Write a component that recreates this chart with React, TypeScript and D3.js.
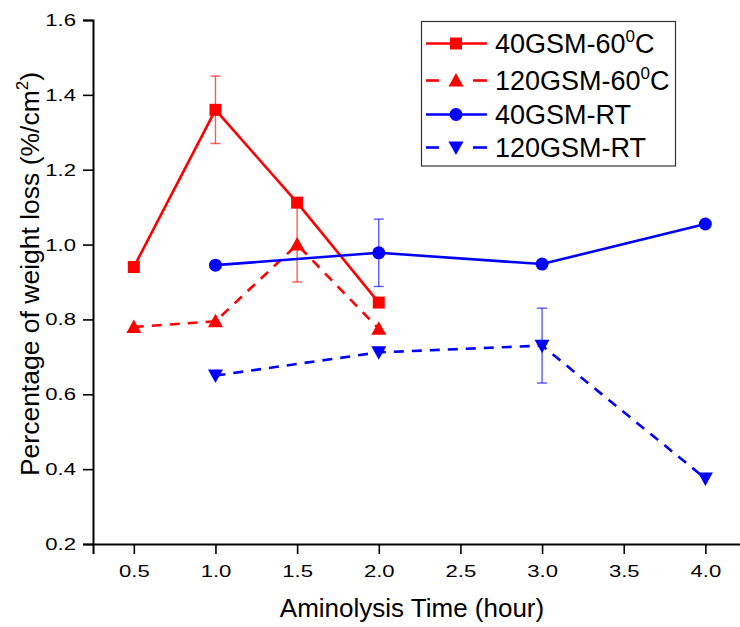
import { useEffect, useRef } from 'react';
import * as d3 from 'd3';

const hours = [0.5, 1.0, 1.5, 2.0, 3.0, 4.0];

// values per series (null = no measurement)
const gsm40Hot = [0.94, 1.36, 1.112, 0.845, null, null];
const gsm120Hot = [0.78, 0.795, 1.0, 0.775, null, null];
const gsm40Rt = [null, 0.945, null, 0.978, 0.948, 1.055];
const gsm120Rt = [null, 0.65, null, 0.712, 0.73, 0.375];

// error bars (half widths), only where drawn in the figure
const gsm40HotErr = [0, 0.09, 0, 0, 0, 0];
const gsm120HotErr = [0, 0, 0.1, 0, 0, 0];
const gsm40RtErr = [0, 0, 0, 0.09, 0, 0];
const gsm120RtErr = [0, 0, 0, 0, 0.1, 0];

const xTicks = [0.5, 1.0, 1.5, 2.0, 2.5, 3.0, 3.5, 4.0];
const yTicks = [0.2, 0.4, 0.6, 0.8, 1.0, 1.2, 1.4, 1.6];

const series = [
  { name: '40GSM-60', sup: '0', tail: 'C', values: gsm40Hot, err: gsm40HotErr, color: '#ff0000', dashed: false, symbol: 'square' },
  { name: '120GSM-60', sup: '0', tail: 'C', values: gsm120Hot, err: gsm120HotErr, color: '#ff0000', dashed: true, symbol: 'up' },
  { name: '40GSM-RT', sup: '', tail: '', values: gsm40Rt, err: gsm40RtErr, color: '#0000ff', dashed: false, symbol: 'circle' },
  { name: '120GSM-RT', sup: '', tail: '', values: gsm120Rt, err: gsm120RtErr, color: '#0000ff', dashed: true, symbol: 'down' },
];

const FONT = '"Liberation Sans", Arial, sans-serif';
const STRETCH = 1.3; // tick labels in the original are drawn wide

const drawMarker = (g: any, symbol: string, x: number, y: number, color: string) => {
  if (symbol === 'square') {
    g.append('rect').attr('x', x - 6).attr('y', y - 6).attr('width', 12).attr('height', 12).attr('fill', color);
  } else if (symbol === 'circle') {
    g.append('circle').attr('cx', x).attr('cy', y).attr('r', 6.5).attr('fill', color);
  } else if (symbol === 'up') {
    g.append('path').attr('d', `M${x},${y - 7.5}L${x + 7.5},${y + 6}L${x - 7.5},${y + 6}Z`).attr('fill', color);
  } else {
    g.append('path').attr('d', `M${x},${y + 7.5}L${x + 7.5},${y - 6}L${x - 7.5},${y - 6}Z`).attr('fill', color);
  }
};

const App = () => {
  const svgRef = useRef<SVGSVGElement>(null);

  useEffect(() => {
    const svg = d3.select(svgRef.current);
    svg.selectAll('*').remove();

    const x = d3.scaleLinear().domain([0.25, 4.25]).range([93, 746.2]);
    const y = d3.scaleLinear().domain([0.2, 1.6]).range([544, 20]);

    // Y axis with minor ticks
    const yAxis = svg.append('g').attr('transform', 'translate(93,0)');
    yAxis.call(
      d3.axisLeft(y).tickValues(d3.range(0.2, 1.61, 0.1)).tickSize(5).tickFormat(() => '')
    );
    yAxis.call(
      d3.axisLeft(y).tickValues(yTicks).tickSize(10).tickFormat(d3.format('.1f')) as any
    );
    // X axis with minor ticks
    const xAxis = svg.append('g').attr('transform', 'translate(0,544)');
    xAxis.call(
      d3.axisBottom(x).tickValues(d3.range(0.25, 4.26, 0.25)).tickSize(5).tickFormat(() => '')
    );
    xAxis.call(
      d3.axisBottom(x).tickValues(xTicks).tickSize(10).tickFormat(d3.format('.1f')) as any
    );
    svg.selectAll('.domain').attr('stroke', '#000').attr('stroke-width', 2);
    svg.selectAll('.tick line').attr('stroke', '#000').attr('stroke-width', 1.6);
    svg.selectAll('.tick text')
      .attr('font-family', FONT)
      .attr('font-size', 17)
      .attr('fill', '#000')
      .attr('transform', `scale(${STRETCH},1)`);
    yAxis.selectAll('.tick text').attr('x', -17 / STRETCH);
    xAxis.selectAll('.tick text').attr('y', 21).attr('dy', '0.71em');

    // Axis titles
    svg.append('text')
      .attr('x', 412)
      .attr('y', 617)
      .attr('text-anchor', 'middle')
      .attr('font-family', FONT)
      .attr('font-size', 26)
      .text('Aminolysis Time (hour)');

    const yt = svg.append('text')
      .attr('transform', 'translate(39,274) rotate(-90)')
      .attr('text-anchor', 'middle')
      .attr('font-family', FONT)
      .attr('font-size', 26.5);
    yt.append('tspan').text('Percentage of weight loss (%/cm');
    yt.append('tspan').attr('dy', -11).attr('font-size', 17).text('2');
    yt.append('tspan').attr('dy', 11).text(')');

    // Series
    series.forEach((s) => {
      const pts = hours
        .map((h, i) => ({ h, v: s.values[i], e: s.err[i] }))
        .filter((p) => p.v !== null) as { h: number; v: number; e: number }[];

      const line = d3.line<{ h: number; v: number }>()
        .x((d) => x(d.h))
        .y((d) => y(d.v));

      svg.append('path')
        .datum(pts)
        .attr('fill', 'none')
        .attr('stroke', s.color)
        .attr('stroke-width', 2.6)
        .attr('stroke-dasharray', s.dashed ? '10,8' : null)
        .attr('d', line);

      const eg = svg.append('g')
        .attr('stroke', s.color)
        .attr('stroke-opacity', 0.65)
        .attr('stroke-width', 1.4);
      pts.filter((p) => p.e > 0).forEach((p) => {
        const cx = x(p.h);
        const y0 = y(p.v - p.e);
        const y1 = y(p.v + p.e);
        eg.append('line').attr('x1', cx).attr('x2', cx).attr('y1', y0).attr('y2', y1);
        eg.append('line').attr('x1', cx - 5).attr('x2', cx + 5).attr('y1', y0).attr('y2', y0);
        eg.append('line').attr('x1', cx - 5).attr('x2', cx + 5).attr('y1', y1).attr('y2', y1);
      });

      const mg = svg.append('g');
      pts.forEach((p) => drawMarker(mg, s.symbol, x(p.h), y(p.v), s.color));
    });

    // Legend
    const lg = svg.append('g');
    lg.append('rect')
      .attr('x', 421.5)
      .attr('y', 21.5)
      .attr('width', 254)
      .attr('height', 144.5)
      .attr('fill', '#fff')
      .attr('stroke', '#333')
      .attr('stroke-width', 1.2);
    const rowY = [43.5, 80.5, 114.5, 147.5];
    series.forEach((s, i) => {
      const ry = rowY[i];
      const row = lg.append('g');
      if (s.dashed) {
        row.append('line').attr('x1', 426).attr('x2', 439).attr('y1', ry).attr('y2', ry)
          .attr('stroke', s.color).attr('stroke-width', 2.6);
        row.append('line').attr('x1', 473).attr('x2', 487).attr('y1', ry).attr('y2', ry)
          .attr('stroke', s.color).attr('stroke-width', 2.6);
      } else {
        row.append('line').attr('x1', 426).attr('x2', 487).attr('y1', ry).attr('y2', ry)
          .attr('stroke', s.color).attr('stroke-width', 2.6);
      }
      drawMarker(row, s.symbol, 456, ry, s.color);
      const t = row.append('text')
        .attr('x', 495)
        .attr('y', ry + 9.5)
        .attr('font-family', FONT)
        .attr('font-size', 27)
        .attr('fill', '#000');
      t.append('tspan').text(s.name);
      if (s.sup) {
        t.append('tspan').attr('dy', -11).attr('font-size', 17).text(s.sup);
        t.append('tspan').attr('dy', 11).text(s.tail);
      }
    });
  }, []);

  return (
    <svg
      ref={svgRef}
      width={740}
      height={627}
      style={{ position: 'absolute', left: 0, top: 0, background: '#fff' }}
    />
  );
};

export default App;
